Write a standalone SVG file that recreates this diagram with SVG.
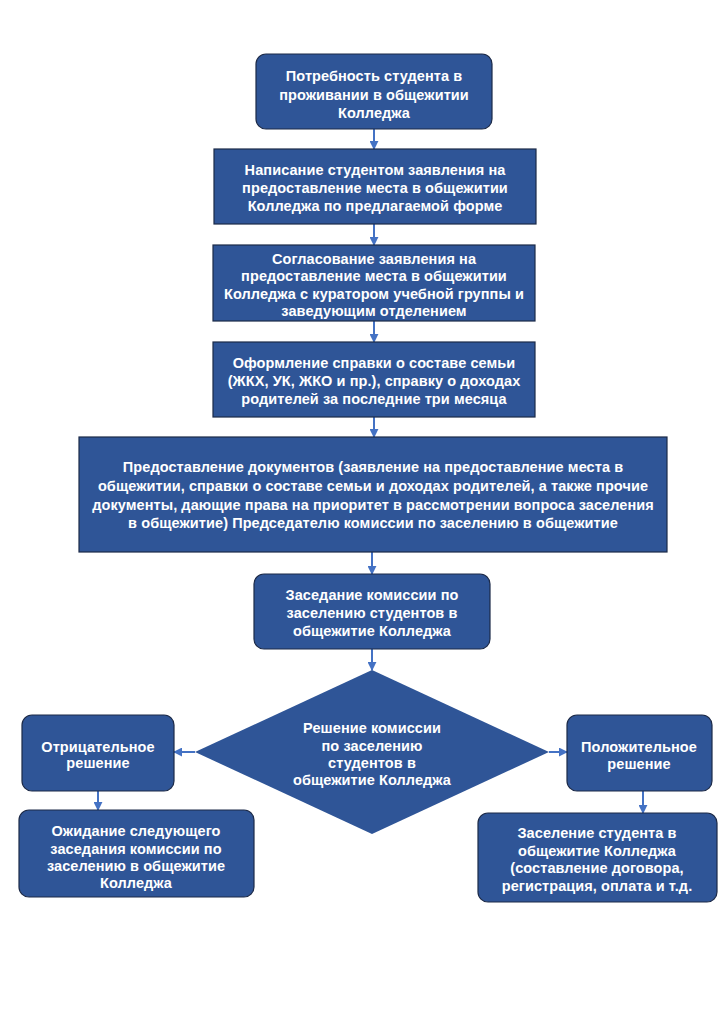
<svg xmlns="http://www.w3.org/2000/svg" width="723" height="1023" viewBox="0 0 723 1023">
<defs>
<style>
.n{fill:#2F5597;stroke:#1c2a48;stroke-width:1.2}
.t{fill:#fff;font-family:"Liberation Sans",Arial,sans-serif;font-weight:bold;font-size:14.5px;letter-spacing:0.08px;text-anchor:middle}
.c{stroke:#4472C4;stroke-width:2;fill:none;marker-end:url(#ah)}
</style>
<marker id="ah" viewBox="0 0 10 10" refX="9" refY="5" markerWidth="4.5" markerHeight="4.5" orient="auto" markerUnits="strokeWidth">
<path d="M0,0 L10,5 L0,10 z" fill="#4472C4"/>
</marker>
</defs>
<rect width="723" height="1023" fill="#fff"/>
<g id="connectors">
<line class="c" x1="374" y1="129" x2="374" y2="149"/>
<line class="c" x1="374" y1="224" x2="374" y2="245"/>
<line class="c" x1="374" y1="321" x2="374" y2="342"/>
<line class="c" x1="374" y1="417" x2="374" y2="437"/>
<line class="c" x1="372" y1="552" x2="372" y2="574"/>
<line class="c" x1="372" y1="649" x2="372" y2="670"/>
<line class="c" x1="195" y1="752" x2="174" y2="752"/>
<line class="c" x1="549" y1="752" x2="567" y2="752"/>
<line class="c" x1="98" y1="791" x2="98" y2="810"/>
<line class="c" x1="643" y1="791" x2="643" y2="813"/>
</g>
<g id="n1">
<rect class="n" x="256" y="54" width="236" height="75" rx="10"/>
<text class="t"><tspan x="374" y="81">Потребность студента в</tspan><tspan x="374" y="100">проживании в общежитии</tspan><tspan x="374" y="118">Колледжа</tspan></text>
</g>
<g id="n2">
<rect class="n" x="214" y="149" width="322" height="75"/>
<text class="t"><tspan x="375" y="175">Написание студентом заявления на</tspan><tspan x="375" y="193">предоставление места в общежитии</tspan><tspan x="375" y="211">Колледжа по предлагаемой форме</tspan></text>
</g>
<g id="n3">
<rect class="n" x="213" y="245" width="322" height="76"/>
<text class="t"><tspan x="374" y="264">Согласование заявления на</tspan><tspan x="374" y="281">предоставление места в общежитии</tspan><tspan x="374" y="299">Колледжа с куратором учебной группы и</tspan><tspan x="374" y="316">заведующим отделением</tspan></text>
</g>
<g id="n4">
<rect class="n" x="213" y="342" width="322" height="75"/>
<text class="t"><tspan x="374" y="368">Оформление справки о составе семьи</tspan><tspan x="374" y="386">(ЖКХ, УК, ЖКО и пр.), справку о доходах</tspan><tspan x="374" y="404">родителей за последние три месяца</tspan></text>
</g>
<g id="n5">
<rect class="n" x="79" y="437" width="588" height="115"/>
<text class="t"><tspan x="373" y="472">Предоставление документов (заявление на предоставление места в</tspan><tspan x="373" y="491">общежитии, справки о составе семьи и доходах родителей, а также прочие</tspan><tspan x="373" y="510">документы, дающие права на приоритет в рассмотрении вопроса заселения</tspan><tspan x="373" y="528">в общежитие) Председателю комиссии по заселению в общежитие</tspan></text>
</g>
<g id="n6">
<rect class="n" x="254" y="574" width="236" height="75" rx="10"/>
<text class="t"><tspan x="372" y="600">Заседание комиссии по</tspan><tspan x="372" y="618">заселению студентов в</tspan><tspan x="372" y="636">общежитие Колледжа</tspan></text>
</g>
<g id="n7">
<polygon points="372,670 549,752 372,834 195,752" fill="#2F5597"/>
<text class="t"><tspan x="372" y="733">Решение комиссии</tspan><tspan x="372" y="751">по заселению</tspan><tspan x="372" y="768">студентов в</tspan><tspan x="372" y="785">общежитие Колледжа</tspan></text>
</g>
<g id="n8">
<rect class="n" x="22" y="715" width="152" height="76" rx="10"/>
<text class="t"><tspan x="98" y="752">Отрицательное</tspan><tspan x="98" y="768">решение</tspan></text>
</g>
<g id="n9">
<rect class="n" x="19" y="810" width="235" height="87" rx="10"/>
<text class="t"><tspan x="136" y="836">Ожидание следующего</tspan><tspan x="136" y="854">заседания комиссии по</tspan><tspan x="136" y="871">заселению в общежитие</tspan><tspan x="136" y="888">Колледжа</tspan></text>
</g>
<g id="n10">
<rect class="n" x="567" y="715" width="145" height="76" rx="10"/>
<text class="t"><tspan x="639" y="752">Положительное</tspan><tspan x="639" y="769">решение</tspan></text>
</g>
<g id="n11">
<rect class="n" x="478" y="813" width="239" height="89" rx="10"/>
<text class="t"><tspan x="597" y="838">Заселение студента в</tspan><tspan x="597" y="856">общежитие Колледжа</tspan><tspan x="597" y="873">(составление договора,</tspan><tspan x="597" y="891">регистрация, оплата и т.д.</tspan></text>
</g>
</svg>
